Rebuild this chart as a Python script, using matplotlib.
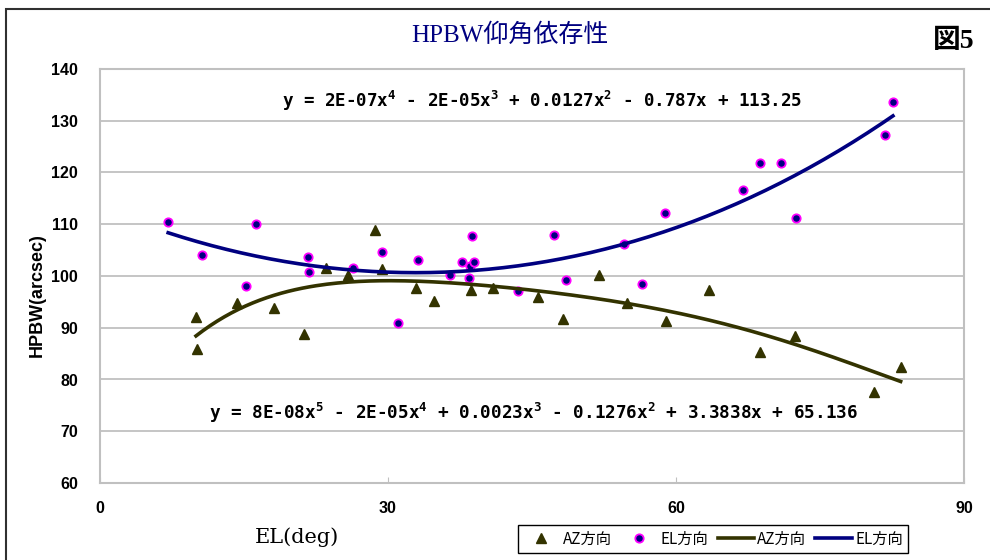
import numpy as np
import matplotlib
matplotlib.use("Agg")
import matplotlib.pyplot as plt
from matplotlib.patches import Rectangle

# --- measured half-power beam width vs. elevation ---
az_el = [10.0, 10.1, 14.3, 18.1, 21.2, 23.5, 25.8, 28.6, 29.4, 32.9, 34.8, 38.6,
         40.9, 45.6, 48.2, 52.0, 54.9, 59.0, 63.4, 68.8, 72.4, 80.6, 83.4]
az_hpbw = [92.0, 85.9, 94.7, 93.8, 88.7, 101.6, 100.2, 108.9, 101.3, 97.7, 95.2, 97.2,
           97.6, 95.9, 91.7, 100.1, 94.7, 91.4, 97.3, 85.3, 88.4, 77.5, 82.4]

el_el = [7.1, 10.6, 15.2, 16.2, 21.7, 21.8, 26.4, 29.4, 31.0, 33.1, 36.5, 37.7, 38.4, 38.5,
         38.7, 39.0, 43.5, 47.3, 48.5, 54.6, 56.5, 58.9, 67.0, 68.7, 70.9, 72.5, 81.8, 82.6]
el_hpbw = [110.4, 104.1, 98.0, 110.0, 103.6, 100.8, 101.6, 104.6, 90.9, 103.0, 100.2, 102.8,
           99.7, 101.9, 107.7, 102.8, 97.1, 107.9, 99.2, 106.1, 98.5, 112.2, 116.6, 121.9,
           121.9, 111.3, 127.2, 133.6]

az_label = "AZ方向"
el_label = "EL方向"
title = "HPBW仰角依存性"
fig_tag = "図5"
eq_el = r"y = 2E-07x$^{4}$ - 2E-05x$^{3}$ + 0.0127x$^{2}$ - 0.787x + 113.25"
eq_az = r"y = 8E-08x$^{5}$ - 2E-05x$^{4}$ + 0.0023x$^{3}$ - 0.1276x$^{2}$ + 3.3838x + 65.136"

yticks = [60, 70, 80, 90, 100, 110, 120, 130, 140]
xticks = [0, 30, 60, 90]

plt.rcParams["mathtext.fontset"] = "custom"
plt.rcParams["mathtext.rm"] = "DejaVu Sans Mono:bold"
plt.rcParams["mathtext.it"] = "DejaVu Sans Mono:bold"
plt.rcParams["mathtext.bf"] = "DejaVu Sans Mono:bold"
plt.rcParams["mathtext.default"] = "rm"

AZ_COLOR = "#333300"
EL_COLOR = "#000080"
GRID = "#c0c0c0"
CJK = ["Noto Sans CJK JP", "DejaVu Sans"]

fig = plt.figure(figsize=(9.9, 5.6), dpi=100)
ax = fig.add_axes([100 / 990, 1 - 483 / 560, 864 / 990, 414 / 560])

# polynomial trendlines fitted to each series
def trend(x, y, deg):
    c = np.polyfit(x, y, deg)
    xs = np.linspace(min(x), max(x), 200)
    return xs, np.polyval(c, xs)

ax.plot(az_el, az_hpbw, linestyle="none", marker="^", ms=7.5, color=AZ_COLOR,
        label=az_label, zorder=3)
ax.plot(el_el, el_hpbw, linestyle="none", marker="o", ms=6, mfc=EL_COLOR,
        mec="#ff00ff", mew=1.3, label=el_label, zorder=3)
xs, ys = trend(az_el, az_hpbw, 5)
ax.plot(xs, ys, color=AZ_COLOR, lw=2.6, label=az_label, zorder=4)
xs, ys = trend(el_el, el_hpbw, 4)
ax.plot(xs, ys, color=EL_COLOR, lw=2.6, label=el_label, zorder=4)

ax.set_xlim(0, 90)
ax.set_ylim(60, 140)
ax.set_xticks(xticks)
ax.set_yticks(yticks)
ax.yaxis.grid(True, color=GRID, lw=1.3)
ax.set_axisbelow(True)
for s in ax.spines.values():
    s.set_color(GRID)
    s.set_linewidth(1.5)
ax.tick_params(axis="x", direction="in", length=4, color=GRID, pad=13)
ax.tick_params(axis="y", length=0, pad=16)
for lab in ax.get_xticklabels() + ax.get_yticklabels():
    lab.set_fontfamily("Liberation Sans")
    lab.set_fontweight("bold")
    lab.set_fontsize(11.5)

fig.text(37 / 990, 1 - 295 / 560, "HPBW(arcsec)", family="Liberation Sans",
         fontweight="bold", fontsize=13, rotation=90, ha="center", va="center")
fig.text(297 / 990, 1 - 537 / 560, "EL(deg)", family="DejaVu Serif", fontsize=15,
         ha="center", va="center")

ax.text(19.0, 133.8, eq_el, family="DejaVu Sans Mono", fontweight="bold",
        fontsize=12.6, ha="left", va="center")
ax.text(11.4, 73.5, eq_az, family="DejaVu Sans Mono", fontweight="bold",
        fontsize=12.7, ha="left", va="center")

fig.text(510 / 990, 1 - 35 / 560, title, family=["Liberation Serif"] + CJK,
         fontsize=18, color=EL_COLOR, ha="center", va="center")
fig.text(954 / 990, 1 - 42 / 560, fig_tag, family=["Liberation Serif"] + CJK,
         fontsize=20, fontweight="bold", color="black", ha="center", va="center")

leg = fig.legend(loc="center", bbox_to_anchor=(713 / 990, 1 - 539 / 560), ncol=4,
                 prop={"family": CJK, "size": 11}, frameon=True, fancybox=False,
                 edgecolor="black", framealpha=1, handlelength=2.4,
                 handletextpad=0.2, columnspacing=0.6, borderpad=0.35,
                 borderaxespad=0)
leg.get_frame().set_linewidth(1.0)

# outer chart-area frame
fig.patches.append(Rectangle((6 / 990, -0.1), 1.2, 1.1 - 9 / 560, transform=fig.transFigure,
                             fill=False, ec="#303030", lw=1.5))

fig.savefig("out.png", dpi=100)
